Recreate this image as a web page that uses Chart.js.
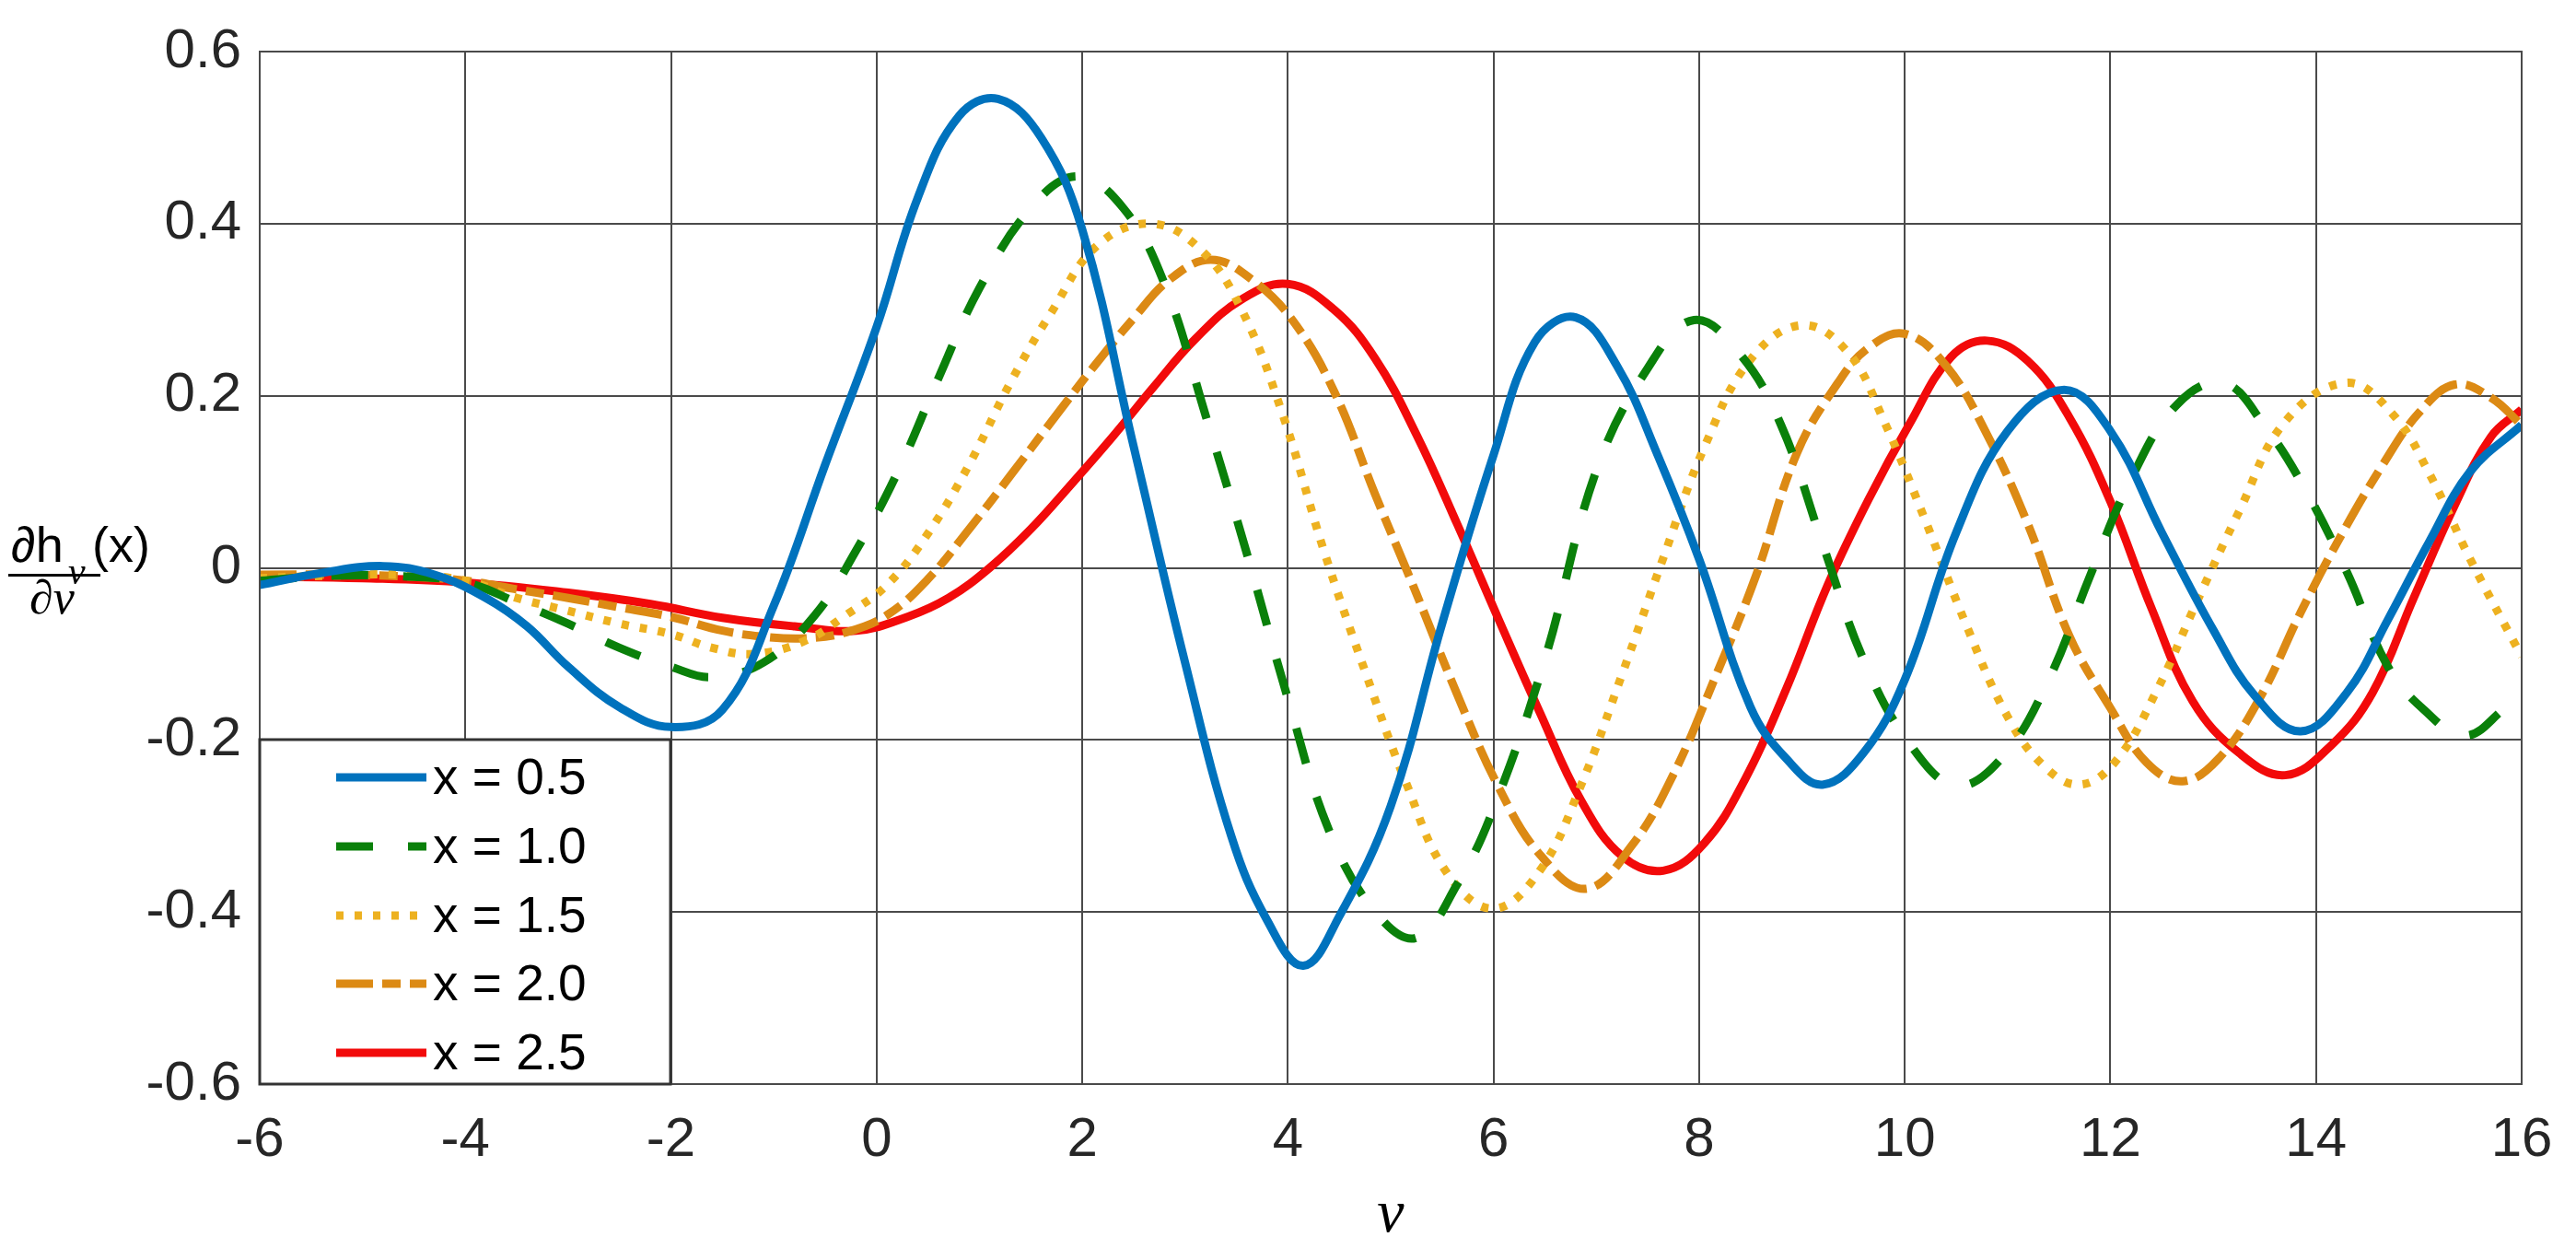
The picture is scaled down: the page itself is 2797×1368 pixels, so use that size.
<!DOCTYPE html>
<html>
<head>
<meta charset="utf-8">
<script src="https://cdn.jsdelivr.net/npm/chart.js@4.4.1/dist/chart.umd.min.js"></script>
<style>
  html, body { margin: 0; padding: 0; background: #fff; }
  #wrap { width: 2797px; height: 1368px; }
</style>
</head>
<body>
<div id="wrap"><canvas id="chart" width="2797" height="1368"></canvas></div>
<script>
// values, nu -> d h_nu(x) / d nu
const nu_05 = [-6, -5.4, -4.8, -4.3, -3.8, -3.4, -3, -2.5, -2, -1.5, -1, -0.5, 0, 0.4, 0.8, 1.18, 1.6, 2, 2.5, 3, 3.45, 3.8, 4.15, 4.5, 5, 5.5, 6, 6.4, 6.8, 7.2, 7.6, 8, 8.5, 8.85, 9.2, 9.6, 10, 10.5, 11, 11.55, 12, 12.5, 13, 13.4, 13.85, 14.3, 14.7, 15.1, 15.5, 16];
const val_05 = [-0.02, -0.006, 0.002, -0.008, -0.035, -0.068, -0.115, -0.162, -0.185, -0.165, -0.044, 0.12, 0.28, 0.43, 0.525, 0.545, 0.5, 0.393, 0.141, -0.11, -0.312, -0.41, -0.4625, -0.405, -0.277, -0.065, 0.131, 0.262, 0.291, 0.235, 0.13, 0.01, -0.162, -0.222, -0.252, -0.215, -0.13, 0.041, 0.159, 0.207, 0.159, 0.041, -0.072, -0.148, -0.19, -0.145, -0.06, 0.03, 0.112, 0.166];

const nu_10 = [-6, -5.3, -4.6, -4, -3.5, -3, -2.5, -2, -1.6, -1.1, -0.6, -0.2, 0.2, 0.6, 1, 1.5, 1.95, 2.4, 2.8, 3.2, 3.6, 4, 4.4, 4.85, 5.25, 5.65, 6, 6.5, 7, 7.5, 7.95, 8.4, 8.8, 9.2, 9.6, 10.05, 10.5, 10.95, 11.4, 11.8, 12.2, 12.65, 13.1, 13.5, 13.9, 14.3, 14.7, 15.05, 15.45, 15.85, 16];
const val_10 = [-0.015, -0.009, -0.01, -0.017, -0.04, -0.065, -0.093, -0.115, -0.127, -0.11, -0.055, 0.02, 0.11, 0.22, 0.325, 0.418, 0.455, 0.418, 0.33, 0.177, 0.017, -0.152, -0.305, -0.4, -0.43, -0.367, -0.28, -0.106, 0.113, 0.232, 0.288, 0.248, 0.165, 0.028, -0.107, -0.205, -0.253, -0.22, -0.13, -0.01, 0.103, 0.19, 0.215, 0.165, 0.09, -0.005, -0.115, -0.165, -0.195, -0.162, -0.148];

const nu_15 = [-6, -5.3, -4.6, -4, -3.5, -3, -2.5, -2, -1.6, -1.2, -0.7, -0.3, 0.1, 0.5, 0.9, 1.3, 1.7, 2.15, 2.67, 3.15, 3.55, 3.95, 4.35, 4.75, 5.15, 5.55, 6, 6.45, 6.85, 7.25, 7.65, 8.05, 8.5, 9, 9.45, 9.8, 10.2, 10.6, 11, 11.35, 11.7, 12.05, 12.45, 12.85, 13.25, 13.7, 14.3, 14.75, 15.1, 15.5, 16];
const val_15 = [-0.012, -0.009, -0.008, -0.015, -0.035, -0.05, -0.065, -0.077, -0.093, -0.1, -0.085, -0.055, -0.02, 0.04, 0.12, 0.215, 0.297, 0.375, 0.4, 0.37, 0.3, 0.178, 0.02, -0.12, -0.25, -0.355, -0.396, -0.352, -0.253, -0.124, 0.011, 0.14, 0.242, 0.282, 0.25, 0.17, 0.055, -0.067, -0.173, -0.23, -0.252, -0.225, -0.143, -0.037, 0.065, 0.17, 0.215, 0.178, 0.11, 0.01, -0.103];

const nu_20 = [-6, -5.3, -4.6, -4, -3.5, -3, -2.5, -2, -1.5, -1.1, -0.7, -0.3, 0.1, 0.5, 0.9, 1.3, 1.7, 2.1, 2.5, 2.85, 3.25, 3.65, 4.05, 4.45, 4.85, 5.25, 5.65, 6.05, 6.45, 6.9, 7.35, 7.75, 8.15, 8.55, 8.95, 9.35, 9.65, 10, 10.4, 10.8, 11.2, 11.6, 12, 12.35, 12.7, 13.05, 13.45, 13.85, 14.25, 14.65, 15, 15.35, 15.7, 16];
const val_20 = [-0.008, -0.008, -0.01, -0.015, -0.025, -0.035, -0.046, -0.057, -0.073, -0.08, -0.082, -0.075, -0.055, -0.013, 0.045, 0.107, 0.17, 0.232, 0.29, 0.335, 0.358, 0.335, 0.287, 0.205, 0.085, -0.03, -0.148, -0.255, -0.333, -0.373, -0.322, -0.24, -0.129, -0.01, 0.133, 0.215, 0.256, 0.272, 0.235, 0.155, 0.05, -0.079, -0.163, -0.226, -0.248, -0.222, -0.152, -0.052, 0.039, 0.12, 0.18, 0.213, 0.198, 0.166];

const nu_25 = [-6, -5, -4, -3, -2.2, -1.5, -0.8, -0.2, 0.3, 0.7, 1.1, 1.5, 1.9, 2.3, 2.7, 3.1, 3.55, 4, 4.45, 4.85, 5.25, 5.65, 6.05, 6.45, 6.85, 7.25, 7.65, 8.05, 8.45, 8.85, 9.25, 9.65, 10.05, 10.45, 10.8, 11.2, 11.6, 12, 12.4, 12.8, 13.25, 13.7, 14.15, 14.55, 14.95, 15.35, 15.7, 16];
const val_25 = [-0.01, -0.012, -0.017, -0.029, -0.042, -0.058, -0.068, -0.073, -0.057, -0.035, 0.0, 0.045, 0.098, 0.153, 0.211, 0.266, 0.312, 0.33, 0.3, 0.243, 0.155, 0.05, -0.06, -0.168, -0.27, -0.335, -0.352, -0.32, -0.245, -0.14, -0.02, 0.08, 0.168, 0.245, 0.264, 0.24, 0.175, 0.077, -0.047, -0.155, -0.215, -0.241, -0.206, -0.145, -0.035, 0.073, 0.152, 0.184];

const series_names = ["x = 0.5", "x = 1.0", "x = 1.5", "x = 2.0", "x = 2.5"];
const series_colors = ["#0072BD", "#0A800A", "#EDB120", "#DC8A14", "#F20A0A"];
const series_dash = [[], [40, 38], [8, 12], [40, 10, 20, 10], []];

const x_ticks = [-6, -4, -2, 0, 2, 4, 6, 8, 10, 12, 14, 16];
const y_ticks = [-0.6, -0.4, -0.2, 0, 0.2, 0.4, 0.6];

const nus = [nu_05, nu_10, nu_15, nu_20, nu_25];
const vals = [val_05, val_10, val_15, val_20, val_25];

const datasets = series_names.map((name, i) => ({
  label: name,
  data: nus[i].map((n, k) => ({ x: n, y: vals[i][k] })),
  borderColor: series_colors[i],
  borderWidth: 9,
  borderDash: series_dash[i],
  borderCapStyle: "butt",
  pointRadius: 0,
  fill: false,
  tension: 0.4,
}));

const grid_color = "#4a4a4a";
const text_color = "#262626";

// box, legend and the two axis titles
const decor = {
  id: "decor",
  afterDatasetsDraw(chart) {
    const ctx = chart.ctx;
    const a = chart.chartArea;
    ctx.save();
    ctx.strokeStyle = grid_color;
    ctx.lineWidth = 2;
    ctx.strokeRect(a.left, a.top, a.right - a.left, a.bottom - a.top);

    // legend, lower left
    const lx = a.left, ly = 803, lw = 446, lh = a.bottom - 803;
    ctx.fillStyle = "#fff";
    ctx.fillRect(lx, ly, lw, lh);
    ctx.strokeStyle = "#333";
    ctx.lineWidth = 3;
    ctx.strokeRect(lx, ly, lw, lh);
    const rows = [844, 919, 994, 1068, 1143];
    chart.data.datasets.forEach((ds, i) => {
      ctx.strokeStyle = ds.borderColor;
      ctx.lineWidth = 9;
      ctx.lineCap = "butt";
      ctx.setLineDash(ds.borderDash);
      ctx.beginPath();
      ctx.moveTo(365, rows[i]);
      ctx.lineTo(463, rows[i]);
      ctx.stroke();
      ctx.setLineDash([]);
      ctx.fillStyle = "#000";
      ctx.font = "55px 'Liberation Sans', Arial, sans-serif";
      ctx.textAlign = "left";
      ctx.textBaseline = "middle";
      ctx.fillText(ds.label, 470, rows[i] + 3);
    });

    // y title: d h_nu(x) / d nu
    ctx.fillStyle = "#000";
    ctx.textBaseline = "alphabetic";
    ctx.font = "54px 'Liberation Sans', Arial, sans-serif";
    ctx.fillText("\u2202h", 12, 610);
    ctx.font = "italic 42px 'Liberation Serif', serif";
    ctx.fillText("\u03bd", 74, 634);
    ctx.font = "54px 'Liberation Sans', Arial, sans-serif";
    ctx.fillText("(x)", 100, 610);
    ctx.fillRect(9, 623, 100, 3);
    ctx.font = "italic 52px 'Liberation Serif', serif";
    ctx.fillText("\u2202\u03bd", 32, 666);

    // x title
    ctx.font = "italic 66px 'Liberation Serif', serif";
    ctx.textAlign = "center";
    ctx.textBaseline = "middle";
    ctx.fillText("\u03bd", (a.left + a.right) / 2, 1320);
    ctx.restore();
  },
};

new Chart(document.getElementById("chart"), {
  type: "line",
  data: { datasets },
  options: {
    responsive: false,
    animation: false,
    devicePixelRatio: 1,
    layout: { padding: { top: 50, right: 59, left: 0, bottom: 0 } },
    plugins: { legend: { display: false }, tooltip: { enabled: false } },
    scales: {
      x: {
        type: "linear",
        min: -6,
        max: 16,
        afterBuildTicks: (s) => { s.ticks = x_ticks.map((v) => ({ value: v })); },
        afterFit: (s) => { s.height = 191; },
        ticks: {
          autoSkip: false,
          maxRotation: 0,
          padding: 25,
          color: text_color,
          font: { family: "'Liberation Sans', Arial, sans-serif", size: 60 },
          callback: (v) => String(v),
        },
        grid: { color: grid_color, lineWidth: 2, drawTicks: false },
        border: { color: grid_color, width: 2 },
      },
      y: {
        type: "linear",
        min: -0.6,
        max: 0.6,
        afterBuildTicks: (s) => { s.ticks = y_ticks.map((v) => ({ value: v })); },
        afterFit: (s) => { s.width = 282; },
        ticks: {
          padding: 20,
          color: text_color,
          font: { family: "'Liberation Sans', Arial, sans-serif", size: 60 },
          callback: (v) => (Math.abs(v) < 1e-9 ? "0" : v.toFixed(1)),
        },
        grid: { color: grid_color, lineWidth: 2, drawTicks: false },
        border: { color: grid_color, width: 2 },
      },
    },
  },
  plugins: [decor],
});
</script>
</body>
</html>
